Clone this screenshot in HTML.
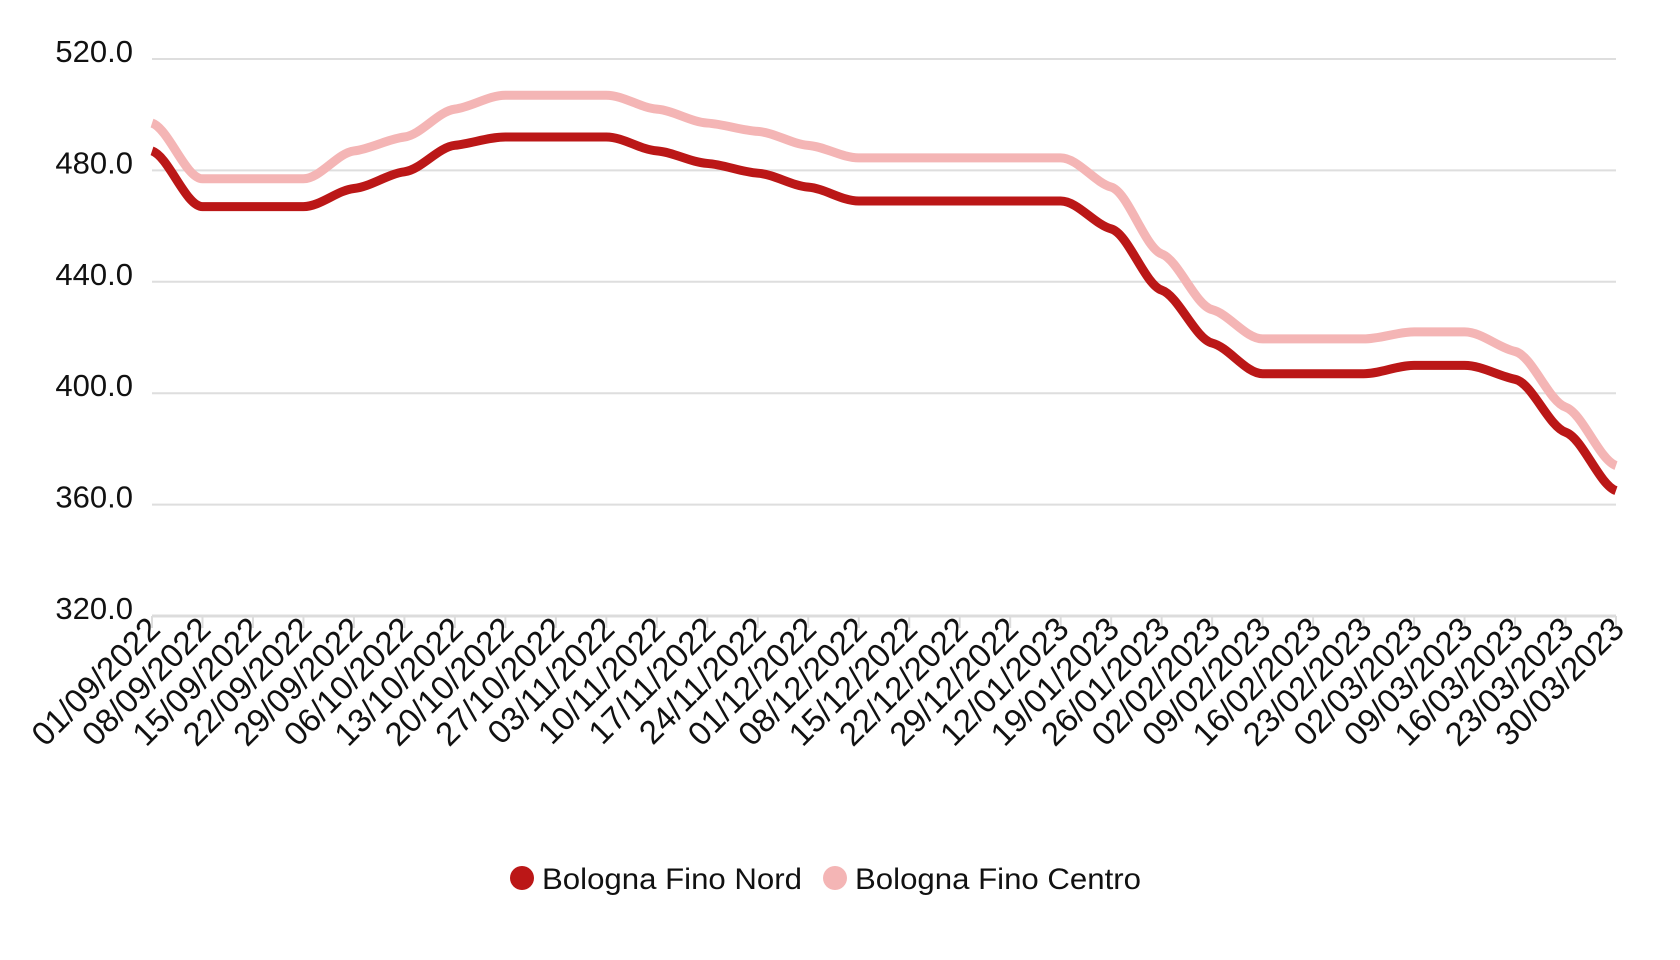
<!DOCTYPE html>
<html><head><meta charset="utf-8"><style>
html,body{margin:0;padding:0;background:#fff;}
svg{display:block;font-family:"Liberation Sans",sans-serif;}
</style></head><body>
<svg id="c" width="1680" height="960" xmlns="http://www.w3.org/2000/svg"></svg>
<script>
const svg=document.getElementById('c');
const x0=152,x1=1616,yb=616,k=2.785;
const Y=v=>yb-(v-320)*k;
const labels=["01/09/2022","08/09/2022","15/09/2022","22/09/2022","29/09/2022","06/10/2022","13/10/2022","20/10/2022","27/10/2022","03/11/2022","10/11/2022","17/11/2022","24/11/2022","01/12/2022","08/12/2022","15/12/2022","22/12/2022","29/12/2022","12/01/2023","19/01/2023","26/01/2023","02/02/2023","09/02/2023","16/02/2023","23/02/2023","02/03/2023","09/03/2023","16/03/2023","23/03/2023","30/03/2023"];
const n=labels.length, dx=(x1-x0)/(n-1);
let h='';
for(let v=360;v<=520;v+=40){h+=`<line x1="${x0}" x2="${x1}" y1="${Y(v)}" y2="${Y(v)}" stroke="#dedede" stroke-width="2"/>`;}
for(let v=320;v<=520;v+=40){h+=`<text x="133" y="${Y(v)+3}" text-anchor="end" font-size="31" fill="#111">${v.toFixed(1)}</text>`;}
h+=`<line x1="${x0}" x2="${x1}" y1="${yb}" y2="${yb}" stroke="#dcdcdc" stroke-width="3"/>`;
for(let i=0;i<n;i++){const x=x0+i*dx;h+=`<line x1="${x}" x2="${x}" y1="${yb}" y2="${yb+12}" stroke="#dcdcdc" stroke-width="2"/>`;
h+=`<text transform="translate(${x+10},${yb+15}) rotate(-45)" text-anchor="end" font-size="33" fill="#111">${labels[i]}</text>`;}
function path(d){
 const p=d.map((v,i)=>[x0+i*dx,Y(v)]);const m=[],s=[];
 for(let i=0;i<p.length-1;i++)s.push((p[i+1][1]-p[i][1])/dx);
 for(let i=0;i<p.length;i++){if(i==0)m.push(s[0]*0.3);else if(i==p.length-1)m.push(s[i-1]*0.3);else m.push(s[i-1]*s[i]<=0?0:(s[i-1]+s[i])/2*0.3);}
 let str=`M${p[0][0]},${p[0][1]}`;
 for(let i=0;i<p.length-1;i++){const h3=dx/3;str+=` C${p[i][0]+h3},${p[i][1]+m[i]*h3} ${p[i+1][0]-h3},${p[i+1][1]-m[i+1]*h3} ${p[i+1][0]},${p[i+1][1]}`;}
 return str;}
const nord=[487,467,467,467,473.5,479.5,489,492,492,492,487,482.5,479,474,469,469,469,469,469,459,437,418,407,407,407,410,410,405,386,365];
const centro=[497,477,477,477,487,492,502,507,507,507,502,497,494,489,484.5,484.5,484.5,484.5,484.5,474,450,430,419.5,419.5,419.5,422,422,415,395,374];
h+=`<path d="${path(centro)}" fill="none" stroke="#f4b5b5" stroke-width="9" stroke-linejoin="round"/>`;
h+=`<path d="${path(nord)}" fill="none" stroke="#bb1717" stroke-width="9" stroke-linejoin="round"/>`;
h+=`<circle cx="522" cy="878" r="12" fill="#bb1717"/><text x="542" y="889" font-size="30" fill="#111" textLength="260" lengthAdjust="spacingAndGlyphs">Bologna Fino Nord</text>`;
h+=`<circle cx="835" cy="878" r="12" fill="#f4b5b5"/><text x="855" y="889" font-size="30" fill="#111" textLength="286" lengthAdjust="spacingAndGlyphs">Bologna Fino Centro</text>`;
svg.innerHTML=h;
</script>
</body></html>
